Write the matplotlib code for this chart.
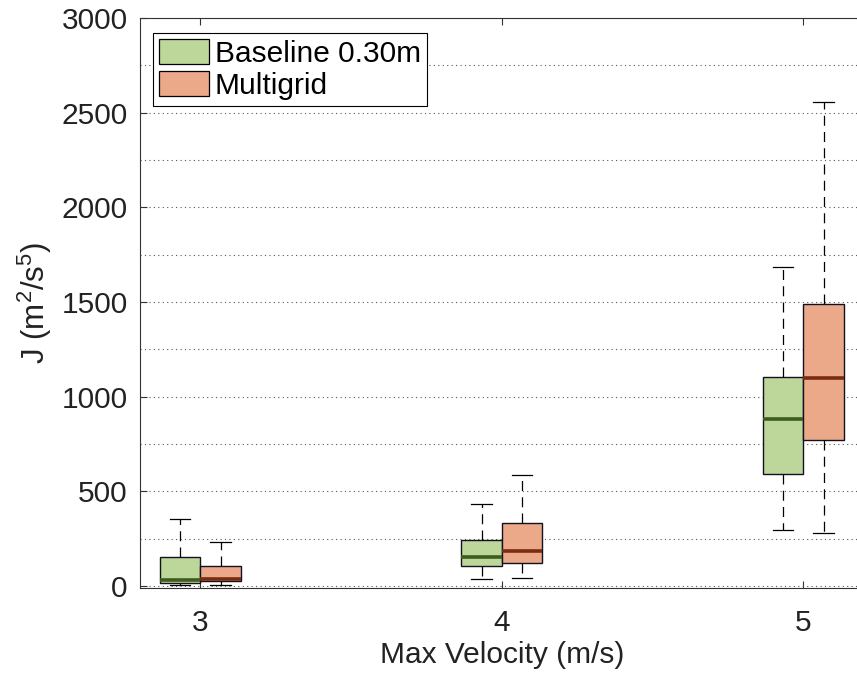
import matplotlib
matplotlib.use("Agg")
import matplotlib.pyplot as plt
from matplotlib.patches import Patch
from matplotlib.ticker import MultipleLocator

plt.rcParams['font.family'] = ['Liberation Sans', 'DejaVu Sans']
plt.rcParams['mathtext.default'] = 'regular'

categories = [3, 4, 5]
series_names = ["Baseline 0.30m", "Multigrid"]
# per category: whisker low, q1, median, q3, whisker high
baseline_low = [5, 35, 294]
baseline_q1 = [16, 107, 593]
baseline_med = [34, 153, 884]
baseline_q3 = [153, 243, 1106]
baseline_high = [354, 432, 1683]
multigrid_low = [7, 42, 278]
multigrid_q1 = [25, 123, 771]
multigrid_med = [39, 186, 1097]
multigrid_q3 = [107, 331, 1488]
multigrid_high = [232, 588, 2556]

face_colors = ['#BDD69A', '#EBA98A']
median_colors = ['#3E5C1E', '#7A2C10']
FS = 21.5

fig = plt.figure(figsize=(8.57, 6.77), dpi=100)
ax = fig.add_axes([140/857, 89/677, 723.6/857, 570/677])

box_w = 0.134
offsets = [-box_w/2, box_w/2]
series = [
    (baseline_low, baseline_q1, baseline_med, baseline_q3, baseline_high),
    (multigrid_low, multigrid_q1, multigrid_med, multigrid_q3, multigrid_high),
]
for si, (lo, q1, med, q3, hi) in enumerate(series):
    stats = [dict(whislo=lo[i], q1=q1[i], med=med[i], q3=q3[i], whishi=hi[i], fliers=[])
             for i in range(len(categories))]
    ax.bxp(stats, positions=[c + offsets[si] for c in categories], widths=box_w,
           capwidths=box_w/2, patch_artist=True, showfliers=False,
           boxprops=dict(facecolor=face_colors[si], edgecolor='#111122', linewidth=1.0),
           medianprops=dict(color=median_colors[si], linewidth=2.6, solid_capstyle='butt'),
           whiskerprops=dict(color='black', linewidth=0.9, linestyle=(0, (8, 5))),
           capprops=dict(color='black', linewidth=0.9),
           manage_ticks=False, zorder=3)

ax.set_xlim(2.8, 5.2)
ax.set_ylim(-10.5, 3000)
ax.set_xticks(categories)
ax.set_xticklabels([str(c) for c in categories])
ax.yaxis.set_major_locator(MultipleLocator(500))
ax.yaxis.set_minor_locator(MultipleLocator(250))
ax.tick_params(axis='both', which='major', direction='in', length=5, width=0.8,
               labelsize=FS, top=True, right=True, color='#333333', labelcolor='#222222')
ax.tick_params(axis='y', which='major', pad=9)
ax.tick_params(axis='x', which='major', pad=15)
ax.tick_params(axis='y', which='minor', length=0)
ax.yaxis.grid(True, which='both', linestyle=(0, (1, 3)), color='#555555', linewidth=0.8)
ax.set_axisbelow(True)
for sp in ax.spines.values():
    sp.set_color('#333333')
    sp.set_linewidth(0.8)

ax.set_xlabel("Max Velocity (m/s)", fontsize=FS, labelpad=3, color='#222222')
ax.set_ylabel("J (m$^2$/s$^5$)", fontsize=FS + 1, labelpad=5, color='#222222')

handles = [Patch(facecolor=face_colors[i], edgecolor='black', linewidth=0.9) for i in range(2)]
leg = ax.legend(handles, series_names, loc='upper left', bbox_to_anchor=(0.018, 0.974),
                borderaxespad=0, fontsize=FS, fancybox=False, framealpha=1,
                edgecolor='black', handlelength=1.67, handleheight=0.93,
                handletextpad=0.2, labelspacing=0.1, borderpad=0.2)
leg.get_frame().set_linewidth(0.8)

fig.savefig("out.png", dpi=100)
